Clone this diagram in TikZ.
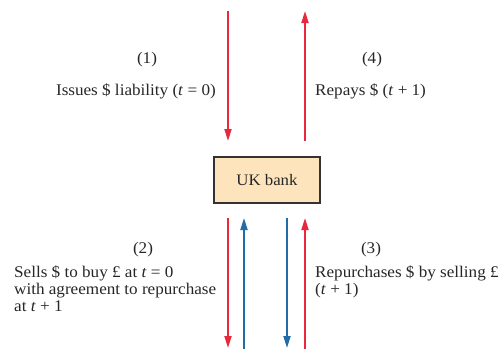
\documentclass[tikz,border=0pt]{standalone}
\usepackage{fontspec}
\setmainfont[FakeStretch=1.05]{Liberation Serif}
\usetikzlibrary{arrows.meta}
\definecolor{flowred}{HTML}{E8283C}
\definecolor{flowblue}{HTML}{1F6DAA}
\definecolor{boxfill}{HTML}{FDE4BD}
\definecolor{boxline}{HTML}{333333}
\tikzset{
  bankbox/.style={draw=boxline, line width=1.3pt, fill=boxfill, minimum width=106pt, minimum height=46pt, font=\fontsize{16}{17}\selectfont, text=black!85},
  flow/.style={line width=1.8pt, -{Triangle[length=12pt, width=7pt]}},
  lbl/.style={font=\fontsize{16.3}{17}\selectfont, inner sep=0pt, text=black!85},
}
\begin{document}
\begin{tikzpicture}[x=1pt, y=-1pt]
\useasboundingbox (0,0) rectangle (499,349);
\node[bankbox] (bank) at (267,180) {UK bank};

% upper flows
\coordinate (a1s) at (228,11);  \coordinate (a1e) at (228,141);
\coordinate (a4s) at (305,141); \coordinate (a4e) at (305,11);
\draw[flow, flowred] (a1s) -- (a1e);
\draw[flow, flowred] (a4s) -- (a4e);

% lower flows
\coordinate (a2s) at (228,218); \coordinate (a2e) at (228,348);
\coordinate (b1s) at (244,349); \coordinate (b1e) at (244,218);
\coordinate (b2s) at (287,218); \coordinate (b2e) at (287,348);
\coordinate (a3s) at (305,349); \coordinate (a3e) at (305,218);
\draw[flow, flowred] (a2s) -- (a2e);
\draw[flow, flowblue] (b1s) -- (b1e);
\draw[flow, flowblue] (b2s) -- (b2e);
\draw[flow, flowred] (a3s) -- (a3e);

% labels
\node[lbl] (n1) at (147,60) {(1)};
\node[lbl, anchor=east] (t1) at (216,91) {Issues \$ liability (\textit{t} = 0)};
\node[lbl] (n4) at (372,60) {(4)};
\node[lbl, anchor=west] (t4) at (315,91) {Repays \$ (\textit{t} + 1)};
\node[lbl] (n2) at (143,250) {(2)};
\node[lbl, anchor=north west, align=left] (t2) at (14,265) {Sells \$ to buy £ at \textit{t} = 0\\with agreement to repurchase\\at \textit{t} + 1};
\node[lbl] (n3) at (371,250) {(3)};
\node[lbl, anchor=north west, align=left] (t3) at (315,265) {Repurchases \$ by selling £\\(\textit{t} + 1)};
\end{tikzpicture}
\end{document}
